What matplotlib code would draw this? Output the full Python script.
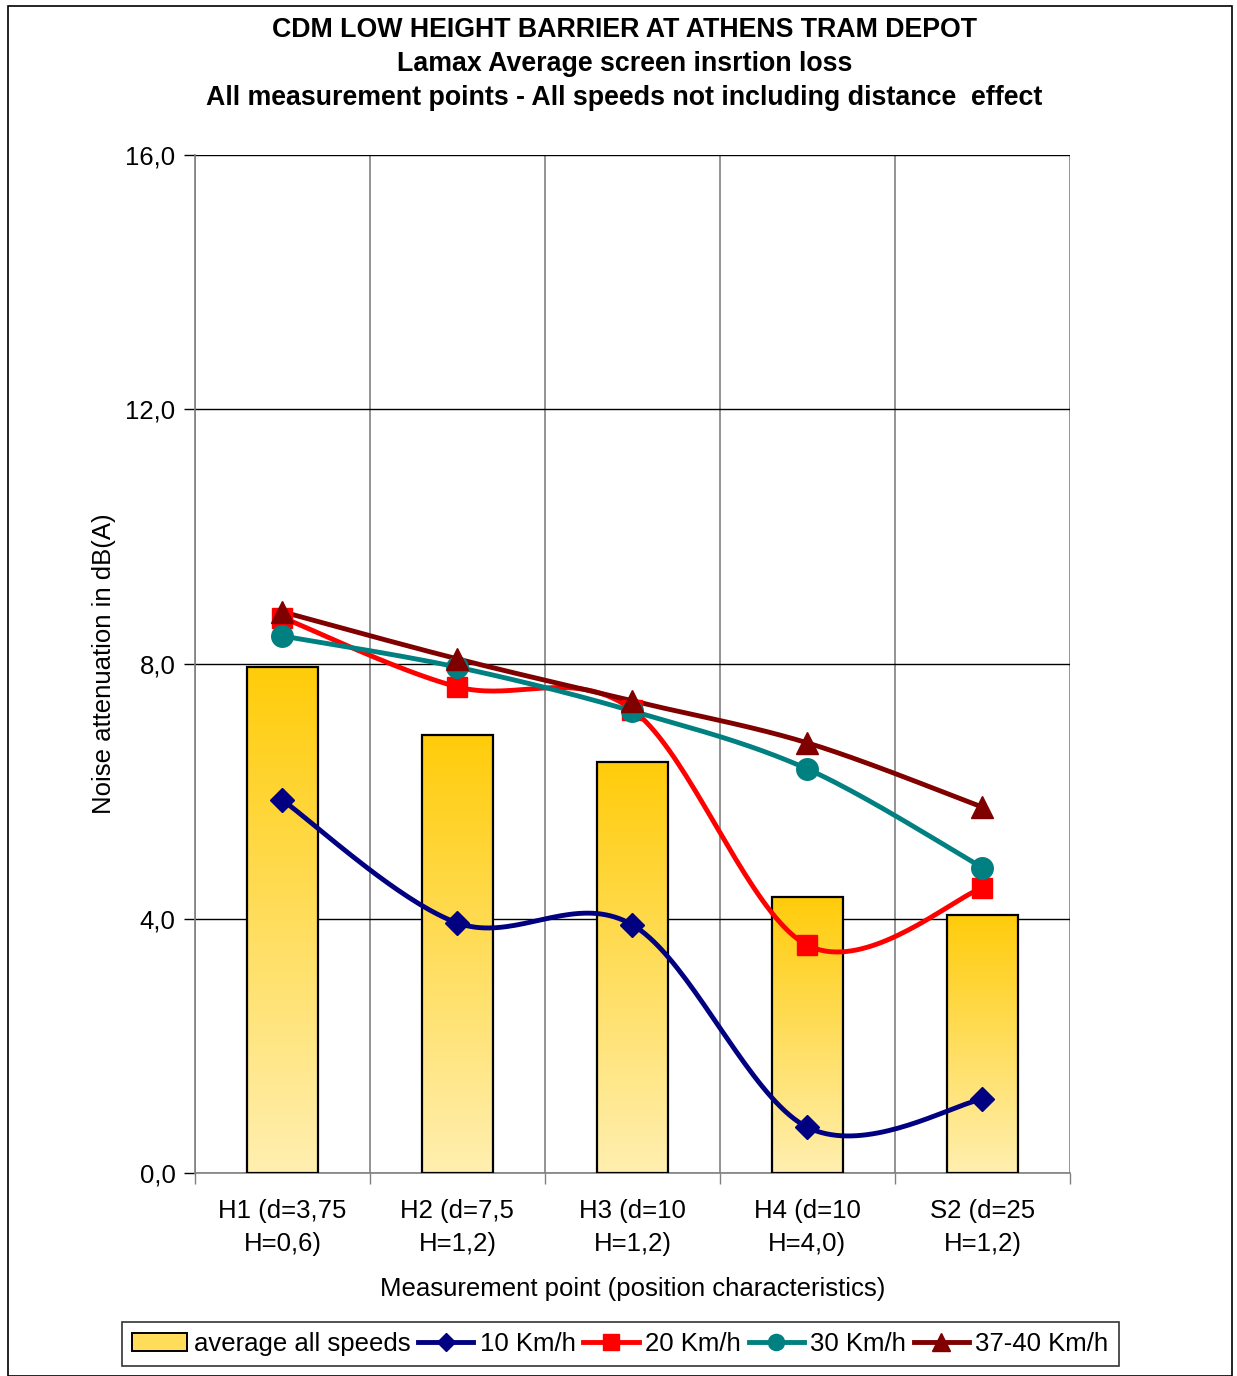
import numpy as np
import matplotlib
matplotlib.use("Agg")
import matplotlib.pyplot as plt
from matplotlib.patches import Rectangle, Patch
from matplotlib.lines import Line2D
from matplotlib.colors import LinearSegmentedColormap

plt.rcParams['font.family'] = ['Liberation Sans', 'DejaVu Sans']

points = ["H1 (d=3,75\nH=0,6)", "H2 (d=7,5\nH=1,2)", "H3 (d=10\nH=1,2)",
          "H4 (d=10\nH=4,0)", "S2 (d=25\nH=1,2)"]
avg_all = [7.95, 6.89, 6.46, 4.34, 4.06]
kmh10 = [5.86, 3.93, 3.90, 0.72, 1.16]
kmh20 = [8.73, 7.64, 7.28, 3.58, 4.48]
kmh30 = [8.44, 7.95, 7.26, 6.35, 4.80]
kmh37 = [8.82, 8.08, 7.42, 6.76, 5.75]

series = [
    ("10 Km/h", kmh10, "#000080", "D", 12.5),
    ("20 Km/h", kmh20, "#FF0000", "s", 14.5),
    ("30 Km/h", kmh30, "#008080", "o", 15.5),
    ("37-40 Km/h", kmh37, "#800000", "^", 16.5),
]


def smooth(xs, ys, n=40):
    # bezier smoothing through every point, like a spreadsheet "smoothed line"
    p = np.column_stack([xs, ys]).astype(float)
    ext = np.vstack([p[0], p, p[-1]])
    out = []
    t = np.linspace(0, 1, n)[:, None]
    for i in range(len(p) - 1):
        p0, p1, p2, p3 = ext[i], ext[i + 1], ext[i + 2], ext[i + 3]
        c1 = p1 + (p2 - p0) / 6
        c2 = p2 - (p3 - p1) / 6
        seg = ((1 - t) ** 3 * p1 + 3 * (1 - t) ** 2 * t * c1
               + 3 * (1 - t) * t ** 2 * c2 + t ** 3 * p2)
        out.append(seg if i == 0 else seg[1:])
    out = np.vstack(out)
    return out[:, 0], out[:, 1]


fig = plt.figure(figsize=(12.37, 13.76), dpi=100)
ax = fig.add_axes([0.1576, 0.1475, 0.7073, 0.7399])

x = np.arange(len(points))
bar_w = 0.406
gold = LinearSegmentedColormap.from_list("gold", ["#FFEFB0", "#FFCC0A"])
grad = np.linspace(0, 1, 256)[:, None]
for xi, h in zip(x, avg_all):
    ax.imshow(grad, cmap=gold, origin="lower", aspect="auto", zorder=2,
              extent=[xi - bar_w / 2, xi + bar_w / 2, 0, h])
ax.bar(x, avg_all, width=bar_w, facecolor="none", edgecolor="black",
       linewidth=1.6, zorder=3)

for label, vals, color, marker, ms in series:
    sx, sy = smooth(x, vals)
    ax.plot(sx, sy, color=color, linewidth=3.5, zorder=4, solid_capstyle="round")
    ax.plot(x, vals, linestyle="none", marker=marker, markersize=ms,
            color=color, zorder=5)

ax.set_xlim(-0.5, 4.5)
ax.set_ylim(0, 16)
ax.set_yticks([0, 4, 8, 12, 16])
ax.set_yticklabels(["0,0", "4,0", "8,0", "12,0", "16,0"])
ax.set_xticks(x)
ax.set_xticklabels(points, fontsize=18.5, linespacing=1.45)
ax.tick_params(axis="x", which="major", length=0, pad=19)
ax.set_xticks(np.arange(-0.5, 5, 1), minor=True)
ax.tick_params(axis="x", which="minor", length=8, color="#808080", width=1)
ax.tick_params(axis="y", length=8, width=1, labelsize=18.5, pad=6)

ax.grid(axis="y", color="black", linewidth=1)
ax.grid(axis="x", which="minor", color="#808080", linewidth=1.2)
ax.set_axisbelow(True)
for side in ["top", "right"]:
    ax.spines[side].set_visible(False)
ax.spines["left"].set_color("#808080")
ax.spines["bottom"].set_color("#808080")
ax.spines["left"].set_linewidth(1.2)
ax.spines["bottom"].set_linewidth(1.2)

ax.set_ylabel("Noise attenuation in dB(A)", fontsize=18.5, labelpad=7)
ax.set_xlabel("Measurement point (position characteristics)", fontsize=18.5,
              labelpad=15)

fig.text(0.505, 1 - 30 / 1376, "CDM LOW HEIGHT BARRIER AT ATHENS TRAM DEPOT",
         ha="center", va="center", fontsize=19.3, fontweight="bold")
fig.text(0.505, 1 - 64 / 1376, "Lamax Average screen insrtion loss",
         ha="center", va="center", fontsize=19.3, fontweight="bold")
fig.text(0.505, 1 - 98 / 1376, "All measurement points - All speeds not including distance  effect",
         ha="center", va="center", fontsize=19.3, fontweight="bold")

handles = [Patch(facecolor="#FFDC5A", edgecolor="black", linewidth=1.4,
                 label="average all speeds")]
for label, vals, color, marker, ms in series:
    handles.append(Line2D([], [], color=color, linewidth=3.5, marker=marker,
                          markersize=ms * 0.75, label=label))
leg = fig.legend(handles=handles, loc="center", ncol=5, numpoints=1,
                 bbox_to_anchor=(0.5015, 1 - 1344 / 1376), fontsize=18.5,
                 frameon=True, fancybox=False, edgecolor="black",
                 handlelength=2.15, handletextpad=0.25, columnspacing=0.3,
                 borderpad=0.4)
leg.get_frame().set_linewidth(1.2)

fig.patches.append(Rectangle((8 / 1237, 0), 1224 / 1237, 1 - 6 / 1376,
                             transform=fig.transFigure, fill=False,
                             edgecolor="black", linewidth=1.2))

fig.savefig("out.png", dpi=100)
